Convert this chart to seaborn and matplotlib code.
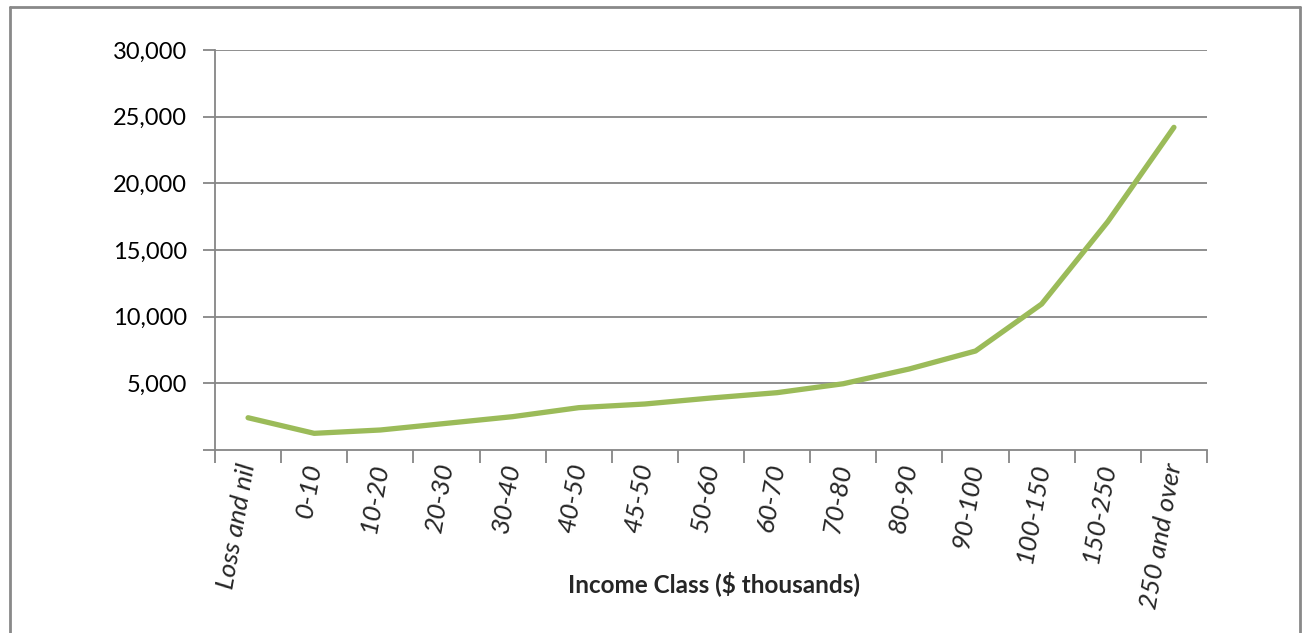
import numpy as np
import pandas as pd
import matplotlib
matplotlib.use("Agg")
import matplotlib.pyplot as plt
import matplotlib.ticker as mticker
from matplotlib.lines import Line2D
import seaborn as sns

# data
income_class = ["Loss and nil", "0-10", "10-20", "20-30", "30-40", "40-50", "45-50",
                "50-60", "60-70", "70-80", "80-90", "90-100", "100-150", "150-250",
                "250 and over"]
values = [2420, 1250, 1500, 2000, 2500, 3175, 3450, 3900, 4300, 4970, 6080, 7425,
          10950, 17125, 24200]
y_ticks = [0, 5000, 10000, 15000, 20000, 25000, 30000]

df = pd.DataFrame({"income": income_class, "value": values})

sns.set_style("white")
plt.rcParams["font.family"] = ["Lato", "DejaVu Sans"]

W, H = 1303, 633
fig = plt.figure(figsize=(W / 100, H / 100), dpi=100)
ax = fig.add_axes([215 / W, 1 - 450 / H, (1207 - 215) / W, 400 / H])

grey = "#868686"
sns.lineplot(data=df, x="income", y="value", sort=False, color="#9BBB59",
             linewidth=3.8, ax=ax, solid_capstyle="round")

ax.set_xlim(-0.5, len(income_class) - 0.5)
ax.set_ylim(0, 30000)

# y axis
ax.set_yticks(y_ticks)
ax.yaxis.set_major_formatter(mticker.FuncFormatter(lambda v, p: "" if v == 0 else f"{int(v):,}"))
ax.tick_params(axis="y", length=9, width=1.3, color=grey, pad=11, labelsize=17,
               labelcolor="#000000", direction="out", left=True)
for yv in y_ticks[1:]:
    ax.axhline(yv, color=grey, linewidth=1.3, zorder=0)

# x axis: ticks at category boundaries, labels at centers
ax.set_xticks(np.arange(-0.5, len(income_class) + 0.5, 1.0))
ax.set_xticklabels([])
ax.set_xticks(np.arange(len(income_class)), minor=True)
ax.set_xticklabels(income_class, minor=True, rotation=80, ha="right", va="center",
                   rotation_mode="anchor", fontstyle="italic", fontsize=19)
ax.tick_params(axis="x", which="minor", length=0, pad=10)
ax.tick_params(axis="x", which="major", length=9, width=1.3, color=grey, direction="out",
               bottom=True)

ax.set_xlabel("Income Class ($ thousands)", fontsize=17.5, fontweight="bold", labelpad=0)
ax.xaxis.set_label_coords(0.503, -(571 - 450) / 400)
ax.set_ylabel("")

for s in ["top", "right"]:
    ax.spines[s].set_visible(False)
for s in ["left", "bottom"]:
    ax.spines[s].set_color(grey)
    ax.spines[s].set_linewidth(1.3)

# outer chart frame
frame_kw = dict(color="#898989", linewidth=2, transform=fig.transFigure)
fig.add_artist(Line2D([10 / W, 10 / W], [0, 1 - 7 / H], **frame_kw))
fig.add_artist(Line2D([10 / W, 1300 / W], [1 - 7 / H, 1 - 7 / H], **frame_kw))
fig.add_artist(Line2D([1300 / W, 1300 / W], [0, 1 - 7 / H], **frame_kw))

fig.savefig("out.png", dpi=100)
